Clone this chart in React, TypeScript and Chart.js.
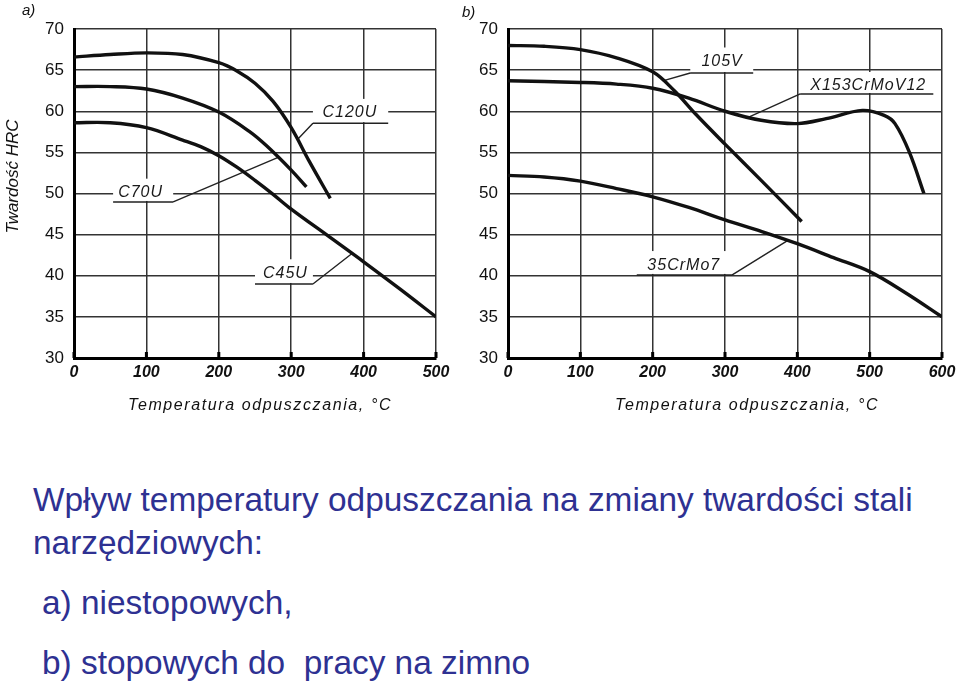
import React, { useEffect, useRef } from "react";
import { Chart, registerables } from "chart.js";
Chart.register(...registerables);

// ---- data: panel a) (non-alloy tool steels) ----
const c120uTemp = [0, 50, 100, 150, 200, 225, 250, 275, 300, 325, 354];
const c120uHrc = [66.6, 66.9, 67.1, 66.9, 65.9, 64.9, 63.4, 61.2, 58.0, 53.9, 49.4];
const c70uTemp = [0, 50, 100, 150, 200, 243, 266, 300, 321];
const c70uHrc = [63.0, 63.0, 62.7, 61.6, 59.9, 57.5, 55.8, 52.85, 50.8];
const c45uTemp = [0, 50, 100, 150, 175, 200, 225, 250, 275, 300, 350, 400, 450, 500];
const c45uHrc = [58.6, 58.6, 58.0, 56.5, 55.7, 54.6, 53.2, 51.6, 49.9, 48.1, 44.9, 41.7, 38.4, 35.0];

// ---- data: panel b) (alloy tool steels for cold work) ----
const v105Temp = [0, 50, 100, 150, 200, 230, 260, 300, 350, 406];
const v105Hrc = [68.0, 67.9, 67.5, 66.5, 64.8, 62.5, 59.6, 56.0, 51.6, 46.6];
const x153Temp = [0, 100, 150, 200, 250, 300, 350, 400, 440, 490, 520, 535, 555, 575];
const x153Hrc = [63.7, 63.5, 63.3, 62.8, 61.6, 60.0, 58.9, 58.5, 59.1, 60.1, 59.5, 58.5, 55.0, 50.0];
const crmoTemp = [0, 50, 100, 150, 200, 250, 300, 350, 400, 450, 500, 550, 600];
const crmoHrc = [52.2, 52.0, 51.5, 50.6, 49.6, 48.3, 46.8, 45.4, 43.9, 42.2, 40.5, 37.9, 35.0];

// ---- axes ----
const yMin = 30;
const yMax = 70;
const yStep = 5;
const xStep = 100;
const xMaxA = 500;
const xMaxB = 600;
const yTitle = "Twardość HRC";
const xTitle = "Temperatura odpuszczania, °C";

// ---- curve labels (text centre, underline range, leader target) in data units ----
const labelsA = [
  { text: "C120U", t: 381, h: 59.8, u: [330, 434], uh: 58.55, from: 0, p: [309, 56.6] },
  { text: "C70U", t: 92, h: 50.1, u: [54, 137], uh: 48.97, from: 1, p: [282, 54.4] },
  { text: "C45U", t: 292, h: 40.3, u: [250, 330], uh: 39.0, from: 1, p: [384, 42.7] },
];
const labelsB = [
  { text: "105V", t: 296, h: 66.05, u: [252, 339], uh: 64.65, from: 0, p: [214, 63.7] },
  { text: "X153CrMoV12", t: 498, h: 63.07, u: [404, 588], uh: 62.1, from: 0, p: [332, 59.25] },
  { text: "35CrMo7", t: 243, h: 41.3, u: [178, 310], uh: 40.1, from: 1, p: [387, 44.3] },
];

const NARROW = '"Liberation Sans Narrow", "Liberation Sans", Arial, sans-serif';
const SANS = '"Liberation Sans", Arial, sans-serif';

const toPts = (xs: number[], ys: number[]) => xs.map((x, i) => ({ x, y: ys[i] }));

const decorPlugin = {
  id: "decor",
  beforeDatasetsDraw(chart: any, _args: any, opts: any) {
    const { ctx, scales } = chart;
    const xs = scales.x;
    const ys = scales.y;
    ctx.save();
    for (const a of opts.items || []) {
      const tx = xs.getPixelForValue(a.t);
      const ty = ys.getPixelForValue(a.h);
      const u1 = xs.getPixelForValue(a.u[0]);
      const u2 = xs.getPixelForValue(a.u[1]);
      const uy = ys.getPixelForValue(a.uh);
      const px = xs.getPixelForValue(a.p[0]);
      const py = ys.getPixelForValue(a.p[1]);
      ctx.fillStyle = "#ffffff";
      ctx.fillRect(u1, ty - 14, u2 - u1, uy - ty + 13);
      ctx.strokeStyle = "#222";
      ctx.lineWidth = 1.4;
      ctx.beginPath();
      ctx.moveTo(u1, uy);
      ctx.lineTo(u2, uy);
      const sx = a.from === 0 ? u1 : u2;
      ctx.moveTo(sx, uy);
      ctx.lineTo(px, py);
      ctx.stroke();
      ctx.fillStyle = "#1a1a1a";
      ctx.font = `italic 16px ${SANS}`;
      (ctx as any).letterSpacing = "1px";
      ctx.textAlign = "center";
      ctx.textBaseline = "middle";
      ctx.fillText(a.text, tx, ty);
      (ctx as any).letterSpacing = "0px";
    }
    ctx.restore();
  },
  afterDatasetsDraw(chart: any, _args: any, opts: any) {
    const { ctx, scales, chartArea } = chart;
    const xs = scales.x;
    ctx.save();
    ctx.fillStyle = "#000";
    for (const tk of xs.ticks) {
      const px = xs.getPixelForValue(tk.value);
      ctx.fillRect(px - 1.5, chartArea.bottom - 6, 3, 6);
    }
    // x-axis title
    ctx.font = `italic 16px ${SANS}`;
    (ctx as any).letterSpacing = "1.6px";
    ctx.textAlign = "left";
    ctx.textBaseline = "middle";
    ctx.fillStyle = "#111";
    ctx.fillText(xTitle, chartArea.left + opts.titleOffset, 406);
    (ctx as any).letterSpacing = "0px";
    // panel letter
    ctx.font = `italic 15px ${SANS}`;
    ctx.fillText(opts.panel, chartArea.left + opts.panelDx, 11 + opts.panelDy);
    // y title
    if (opts.yTitle) {
      ctx.translate(13, (chartArea.top + chartArea.bottom) / 2 - 17);
      ctx.rotate(-Math.PI / 2);
      ctx.textAlign = "center";
      ctx.font = `italic 17px ${NARROW}`;
      ctx.fillText(opts.yTitle, 0, 0);
    }
    ctx.restore();
  },
};

function makeChart(
  canvas: HTMLCanvasElement,
  datasets: any[],
  xMax: number,
  yAxisWidth: number,
  rightPad: number,
  decor: any
) {
  return new Chart(canvas, {
    type: "line",
    data: { datasets },
    plugins: [decorPlugin],
    options: {
      animation: false,
      responsive: false,
      events: [],
      layout: { padding: { top: 29, right: rightPad, left: 0, bottom: 0 } },
      plugins: {
        legend: { display: false },
        tooltip: { enabled: false },
        decor,
      } as any,
      elements: {
        point: { radius: 0 },
        line: { borderWidth: 3.4, borderColor: "#111", tension: 0.35, capBezierPoints: true },
      },
      scales: {
        x: {
          type: "linear",
          min: 0,
          max: xMax,
          ticks: {
            stepSize: xStep,
            color: "#111",
            padding: 5,
            font: { family: NARROW, size: 16, style: "italic", weight: "bold" },
          },
          grid: { color: "#333", lineWidth: 1.5, drawTicks: false },
          border: { display: true, color: "#000", width: 3 },
          afterFit: (s: any) => {
            s.height = 62;
          },
        },
        y: {
          min: yMin,
          max: yMax,
          ticks: {
            stepSize: yStep,
            color: "#111",
            padding: 10,
            font: { family: NARROW, size: 17 },
          },
          grid: { color: "#333", lineWidth: 1.5, drawTicks: false },
          border: { display: true, color: "#000", width: 3 },
          afterFit: (s: any) => {
            s.width = yAxisWidth;
          },
        },
      },
    } as any,
  });
}

const ds = (label: string, xs: number[], ys: number[]) => ({
  label,
  data: toPts(xs, ys),
  borderColor: "#111",
  fill: false,
});

export default function App() {
  const leftRef = useRef<HTMLCanvasElement>(null);
  const rightRef = useRef<HTMLCanvasElement>(null);

  useEffect(() => {
    const a = makeChart(
      leftRef.current!,
      [ds("C120U", c120uTemp, c120uHrc), ds("C70U", c70uTemp, c70uHrc), ds("C45U", c45uTemp, c45uHrc)],
      xMaxA,
      74,
      19,
      { items: labelsA, titleOffset: 54, panel: "a)", panelDx: -52, panelDy: 0, yTitle }
    );
    const b = makeChart(
      rightRef.current!,
      [ds("105V", v105Temp, v105Hrc), ds("X153CrMoV12", x153Temp, x153Hrc), ds("35CrMo7", crmoTemp, crmoHrc)],
      xMaxB,
      53,
      19,
      { items: labelsB, titleOffset: 107, panel: "b)", panelDx: -46, panelDy: 2, yTitle: "" }
    );
    return () => {
      a.destroy();
      b.destroy();
    };
  }, []);

  const textStyle: React.CSSProperties = {
    position: "absolute",
    fontFamily: SANS,
    fontSize: 33.4,
    lineHeight: "33px",
    color: "#2e3192",
    whiteSpace: "pre",
  };

  return (
    <div
      style={{
        position: "absolute",
        left: 0,
        top: 0,
        width: 960,
        height: 685,
        background: "#ffffff",
        overflow: "hidden",
      }}
    >
      <canvas ref={leftRef} width={455} height={420} style={{ position: "absolute", left: 0, top: 0 }} />
      <canvas ref={rightRef} width={506} height={420} style={{ position: "absolute", left: 455, top: 0 }} />
      <div style={{ ...textStyle, left: 33, top: 483 }}>Wpływ temperatury odpuszczania na zmiany twardości stali</div>
      <div style={{ ...textStyle, left: 33, top: 526 }}>narzędziowych:</div>
      <div style={{ ...textStyle, left: 42, top: 586 }}>a) niestopowych,</div>
      <div style={{ ...textStyle, left: 42, top: 646 }}>b) stopowych do  pracy na zimno</div>
    </div>
  );
}
